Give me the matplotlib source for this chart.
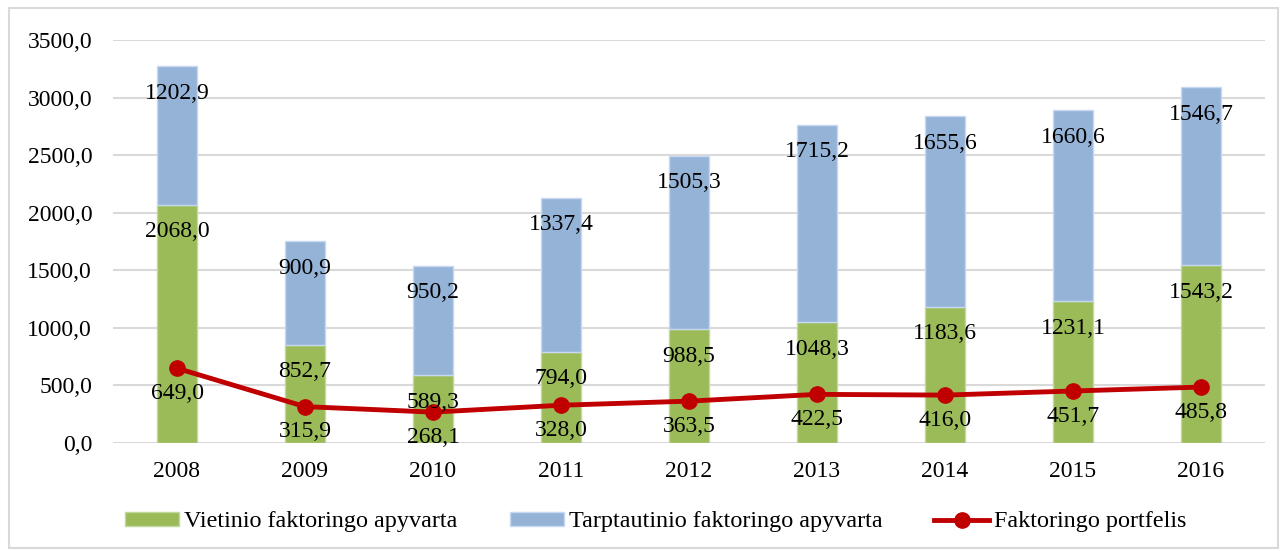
import matplotlib
matplotlib.use("Agg")
import matplotlib.pyplot as plt
from matplotlib.patches import Rectangle
import numpy as np

years = ["2008", "2009", "2010", "2011", "2012", "2013", "2014", "2015", "2016"]
local = [2068.0, 852.7, 589.3, 794.0, 988.5, 1048.3, 1183.6, 1231.1, 1543.2]
intl = [1202.9, 900.9, 950.2, 1337.4, 1505.3, 1715.2, 1655.6, 1660.6, 1546.7]
portfolio = [649.0, 315.9, 268.1, 328.0, 363.5, 422.5, 416.0, 451.7, 485.8]
labels = ["Vietinio faktoringo apyvarta", "Tarptautinio faktoringo apyvarta", "Faktoringo portfelis"]
yticks = [0, 500, 1000, 1500, 2000, 2500, 3000, 3500]

def fmt(v):
    return f"{v:.1f}".replace(".", ",")

plt.rcParams['font.family'] = ['Liberation Serif', 'DejaVu Serif']
FS = 17

fig = plt.figure(figsize=(12.84, 5.51), dpi=100)
ax = fig.add_axes([113/1284, 1-443/551, (1265-113)/1284, (443-40)/551])

x = np.arange(len(years))
w = 0.31
green = "#9BBB59"
blue = "#95B3D7"
red = "#C00000"

b1 = ax.bar(x, local, w, color=green, edgecolor="#C3D69B", linewidth=1, zorder=2, label=labels[0])
b2 = ax.bar(x, intl, w, bottom=local, color=blue, edgecolor="#C6D9F1", linewidth=1, zorder=2, label=labels[1])
ln, = ax.plot(x, portfolio, color=red, lw=3.5, marker="o", markersize=11, zorder=4, label=labels[2])

ax.set_ylim(0, 3500)
ax.set_xlim(-0.5, len(years) - 0.5)
ax.set_yticks(yticks)
ax.set_yticklabels([fmt(v) for v in yticks], fontsize=FS)
ax.set_xticks(x)
ax.set_xticklabels(years, fontsize=FS)
ax.tick_params(length=0)
ax.tick_params(axis='y', pad=15)
ax.tick_params(axis='x', pad=13)
for s in ax.spines.values():
    s.set_visible(False)
ax.yaxis.grid(True, color="#D9D9D9", lw=1.5, zorder=0)
ax.set_axisbelow(True)

off = 235  # data units below top (~27 px)
for i in range(len(years)):
    ax.text(x[i], local[i] - off, fmt(local[i]), ha="center", va="center", fontsize=FS, zorder=5)
    ax.text(x[i], local[i] + intl[i] - off, fmt(intl[i]), ha="center", va="center", fontsize=FS, zorder=5)
    ax.text(x[i], portfolio[i] - 220, fmt(portfolio[i]), ha="center", va="center", fontsize=FS, zorder=5)

leg = fig.legend(handles=[b1, b2, ln], labels=labels, loc="center", bbox_to_anchor=(655.5/1284, 1-522/551),
                 ncol=3, frameon=False, handlelength=2.25, handleheight=0.47,
                 columnspacing=2.15, handletextpad=0.2, prop={'size': 17.4})

fig.patches.append(Rectangle((9/1284, 3/551), (1278-9)/1284, (543-3)/551, transform=fig.transFigure,
                             fill=False, edgecolor="#D9D9D9", lw=1.5))

fig.savefig("out.png", dpi=100)
